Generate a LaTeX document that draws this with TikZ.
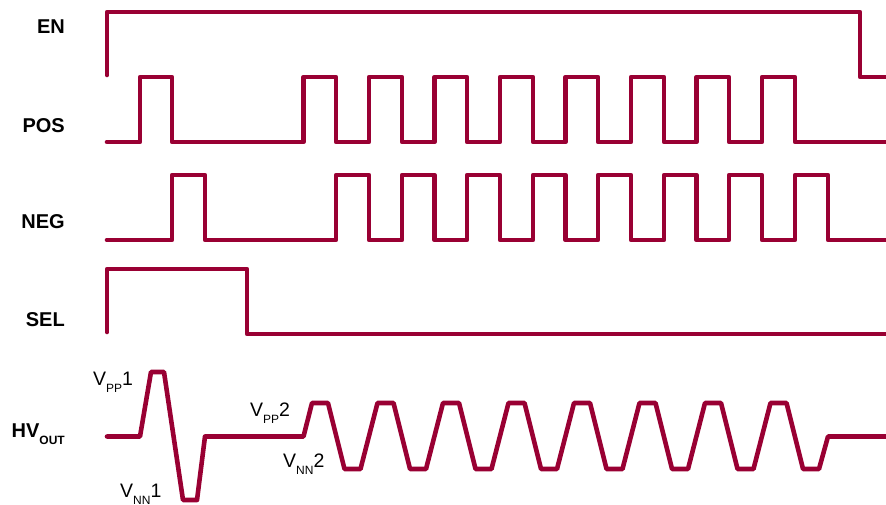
\documentclass[tikz,border=0pt]{standalone}
\usepackage{fontspec}
\setmainfont{Liberation Sans}
\definecolor{wine}{HTML}{990033}
\newcommand{\lowsub}[1]{\raisebox{-7pt}{\fontsize{12}{12}\selectfont #1}}
\begin{document}
\begin{tikzpicture}[x=1pt, y=-1pt, line cap=round, line join=round]
\tikzset{
    wave/.style={draw=wine, line width=4.6pt},
    siglabel/.style={anchor=base east, inner sep=0pt, font=\fontsize{20}{24}\selectfont\bfseries},
    levlabel/.style={anchor=base west, inner sep=0pt, font=\fontsize{19.5}{22}\selectfont}
}
\useasboundingbox (0,0) rectangle (886,505);
\node[siglabel] (en) at (65,34) {EN};
\node[siglabel] (pos) at (65,133) {POS};
\node[siglabel] (neg) at (65,229) {NEG};
\node[siglabel] (sel) at (65,326) {SEL};
\node[siglabel] (hv) at (65,437) {HV\lowsub{OUT}};
\draw[wave] (107,75) -- (107,12) -- (860,12) -- (860,77) -- (886,77);
\draw[wave] (107,142) -- (140,142) -- (140,77) -- (172,77) -- (172,142)
  -- (303.5,142) -- (303.5,77) -- (336,77) -- (336,142)
  -- (369,142) -- (369,77) -- (402,77) -- (402,142)
  -- (434.5,142) -- (434.5,77) -- (467,77) -- (467,142)
  -- (500,142) -- (500,77) -- (533,77) -- (533,142)
  -- (565.5,142) -- (565.5,77) -- (598,77) -- (598,142)
  -- (631,142) -- (631,77) -- (664,77) -- (664,142)
  -- (696.5,142) -- (696.5,77) -- (729,77) -- (729,142)
  -- (762,142) -- (762,77) -- (795,77) -- (795,142) -- (886,142);
\draw[wave] (107,240) -- (172,240) -- (172,175) -- (205,175) -- (205,240)
  -- (336,240) -- (336,175) -- (369,175) -- (369,240)
  -- (402,240) -- (402,175) -- (434.5,175) -- (434.5,240)
  -- (467,240) -- (467,175) -- (500,175) -- (500,240)
  -- (533,240) -- (533,175) -- (565.5,175) -- (565.5,240)
  -- (598,240) -- (598,175) -- (631,175) -- (631,240)
  -- (664,240) -- (664,175) -- (696.5,175) -- (696.5,240)
  -- (729,240) -- (729,175) -- (762,175) -- (762,240)
  -- (795,240) -- (795,175) -- (828,175) -- (828,240) -- (886,240);
\draw[wave] (107,332) -- (107,269) -- (247,269) -- (247,334) -- (886,334);
\draw[wave] (107,436.5) -- (140,436.5) -- (151,372) -- (164,372) -- (183,500)
  -- (197,500) -- (205,436.5) -- (303.5,436.5) -- (312,403) -- (328,403)
  -- (344.5,469) -- (360.5,469) -- (377.5,403) -- (393.5,403)
  -- (410,469) -- (426,469) -- (443,403) -- (459,403)
  -- (475.5,469) -- (491.5,469) -- (508.5,403) -- (524.5,403)
  -- (541,469) -- (557,469) -- (574,403) -- (590,403)
  -- (606.5,469) -- (622.5,469) -- (639.5,403) -- (655.5,403)
  -- (672,469) -- (688,469) -- (705,403) -- (721,403)
  -- (737.5,469) -- (753.5,469) -- (770.5,403) -- (786.5,403)
  -- (803,469) -- (819,469) -- (828,436.5) -- (886,436.5);
\node[levlabel] (vpp1) at (93,385) {V\lowsub{PP}1};
\node[levlabel] (vnn1) at (120,497) {V\lowsub{NN}1};
\node[levlabel] (vpp2) at (250,416) {V\lowsub{PP}2};
\node[levlabel] (vnn2) at (283,467) {V\lowsub{NN}2};
\end{tikzpicture}
\end{document}
